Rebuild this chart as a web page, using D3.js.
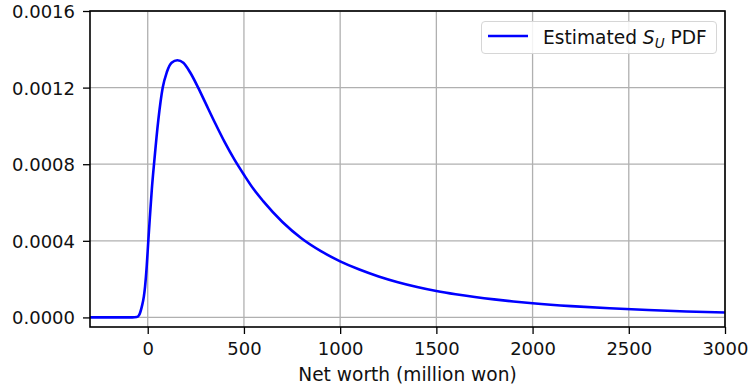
<!DOCTYPE html>
<html>
<head>
<meta charset="utf-8">
<script src="https://cdn.jsdelivr.net/npm/d3@7"></script>
<style>
  html, body { margin: 0; padding: 0; background: #fff; }
  svg { display: block; }
  text { font-family: "DejaVu Sans", sans-serif; fill: #111; }
</style>
</head>
<body>
<svg id="chart" width="750" height="390"></svg>
<script>
// ---- Data ----
const netWorth = [-300, -80, -57, -45, -31, -20, -14, -5, 3, 12, 21, 34, 55, 78, 99, 124, 154, 185, 220, 262, 300, 350, 400, 450, 500, 550, 600, 700, 800, 900, 1000, 1100, 1200, 1300, 1400, 1500, 1600, 1700, 1800, 1900, 2000, 2200, 2400, 2600, 2800, 3000];
const density = [0, 0, 0.000002, 0.000012, 0.000055, 0.00011, 0.00016, 0.00027, 0.0004, 0.000535, 0.000665, 0.000815, 0.00103, 0.0012, 0.00128, 0.00133, 0.001343, 0.00133, 0.00128, 0.0012, 0.00112, 0.001015, 0.000915, 0.000825, 0.000745, 0.00067, 0.000607, 0.000498, 0.000412, 0.000346, 0.000293, 0.00025, 0.000214, 0.000184, 0.000159, 0.000138, 0.000121, 0.0001066, 0.0000942, 0.0000835, 0.0000743, 0.0000592, 0.0000475, 0.0000384, 0.0000313, 0.0000256];
const xTicks = [0, 500, 1000, 1500, 2000, 2500, 3000];
const yTicks = [0, 0.0004, 0.0008, 0.0012, 0.0016];
const xDomain = [-300, 3000];
const yDomain = [-0.00005, 0.0016];
const xLabel = "Net worth (million won)";

// ---- Layout ----
const svg = d3.select("#chart");
const m = { left: 90, right: 725, top: 11, bottom: 327 };
const x = d3.scaleLinear().domain(xDomain).range([m.left, m.right]);
const y = d3.scaleLinear().domain(yDomain).range([m.bottom, m.top]);
const tickFont = 18;
const labelFont = 18.6;

// grid
const g = svg.append("g");
g.selectAll("line.gx").data(xTicks).enter().append("line")
  .attr("x1", d => x(d)).attr("x2", d => x(d))
  .attr("y1", m.top).attr("y2", m.bottom)
  .attr("stroke", "#b0b0b0").attr("stroke-width", 1.3);
g.selectAll("line.gy").data(yTicks).enter().append("line")
  .attr("x1", m.left).attr("x2", m.right)
  .attr("y1", d => y(d)).attr("y2", d => y(d))
  .attr("stroke", "#b0b0b0").attr("stroke-width", 1.3);

// curve
const line = d3.line()
  .x((d, i) => x(netWorth[i]))
  .y((d, i) => y(density[i]))
  .curve(d3.curveMonotoneX);
svg.append("path")
  .datum(density)
  .attr("d", line)
  .attr("fill", "none")
  .attr("stroke", "#0000ff")
  .attr("stroke-width", 2.6)
  .attr("stroke-linejoin", "round");

// axes
const xAxis = d3.axisBottom(x).tickValues(xTicks).tickSize(7).tickPadding(8).tickFormat(d3.format("d"));
const yAxis = d3.axisLeft(y).tickValues(yTicks).tickSize(7).tickPadding(8).tickFormat(d3.format(".4f"));
const gx = svg.append("g").attr("transform", `translate(0,${m.bottom})`).call(xAxis);
const gy = svg.append("g").attr("transform", `translate(${m.left},0)`).call(yAxis);
[gx, gy].forEach(a => {
  a.select(".domain").remove();
  a.selectAll(".tick line").attr("stroke", "#000").attr("stroke-width", 1.3);
  a.selectAll(".tick text").attr("font-size", tickFont).attr("font-family", "DejaVu Sans").attr("fill", "#111");
});
gy.selectAll(".tick text").attr("dy", "0.36em");

// frame
svg.append("rect")
  .attr("x", m.left).attr("y", m.top)
  .attr("width", m.right - m.left).attr("height", m.bottom - m.top)
  .attr("fill", "none").attr("stroke", "#000").attr("stroke-width", 1.6);

// x label
svg.append("text")
  .attr("x", (m.left + m.right) / 2).attr("y", 380.5)
  .attr("text-anchor", "middle").attr("font-size", labelFont)
  .text(xLabel);

// legend
const lg = svg.append("g");
lg.append("rect")
  .attr("x", 481.5).attr("y", 21.5).attr("width", 235).attr("height", 32)
  .attr("rx", 3.5).attr("fill", "#fff").attr("fill-opacity", 0.85)
  .attr("stroke", "#d6d6d6").attr("stroke-width", 1);
lg.append("line")
  .attr("x1", 488).attr("x2", 528).attr("y1", 36).attr("y2", 36)
  .attr("stroke", "#0000ff").attr("stroke-width", 2.6);
const lt = lg.append("text").attr("x", 543).attr("y", 43.5).attr("font-size", labelFont);
lt.append("tspan").text("Estimated ");
lt.append("tspan").attr("font-style", "italic").text("S");
lt.append("tspan").attr("font-style", "italic").attr("font-size", 13.5).attr("dy", 4).text("U");
lt.append("tspan").attr("dy", -4).text(" PDF");
</script>
</body>
</html>
